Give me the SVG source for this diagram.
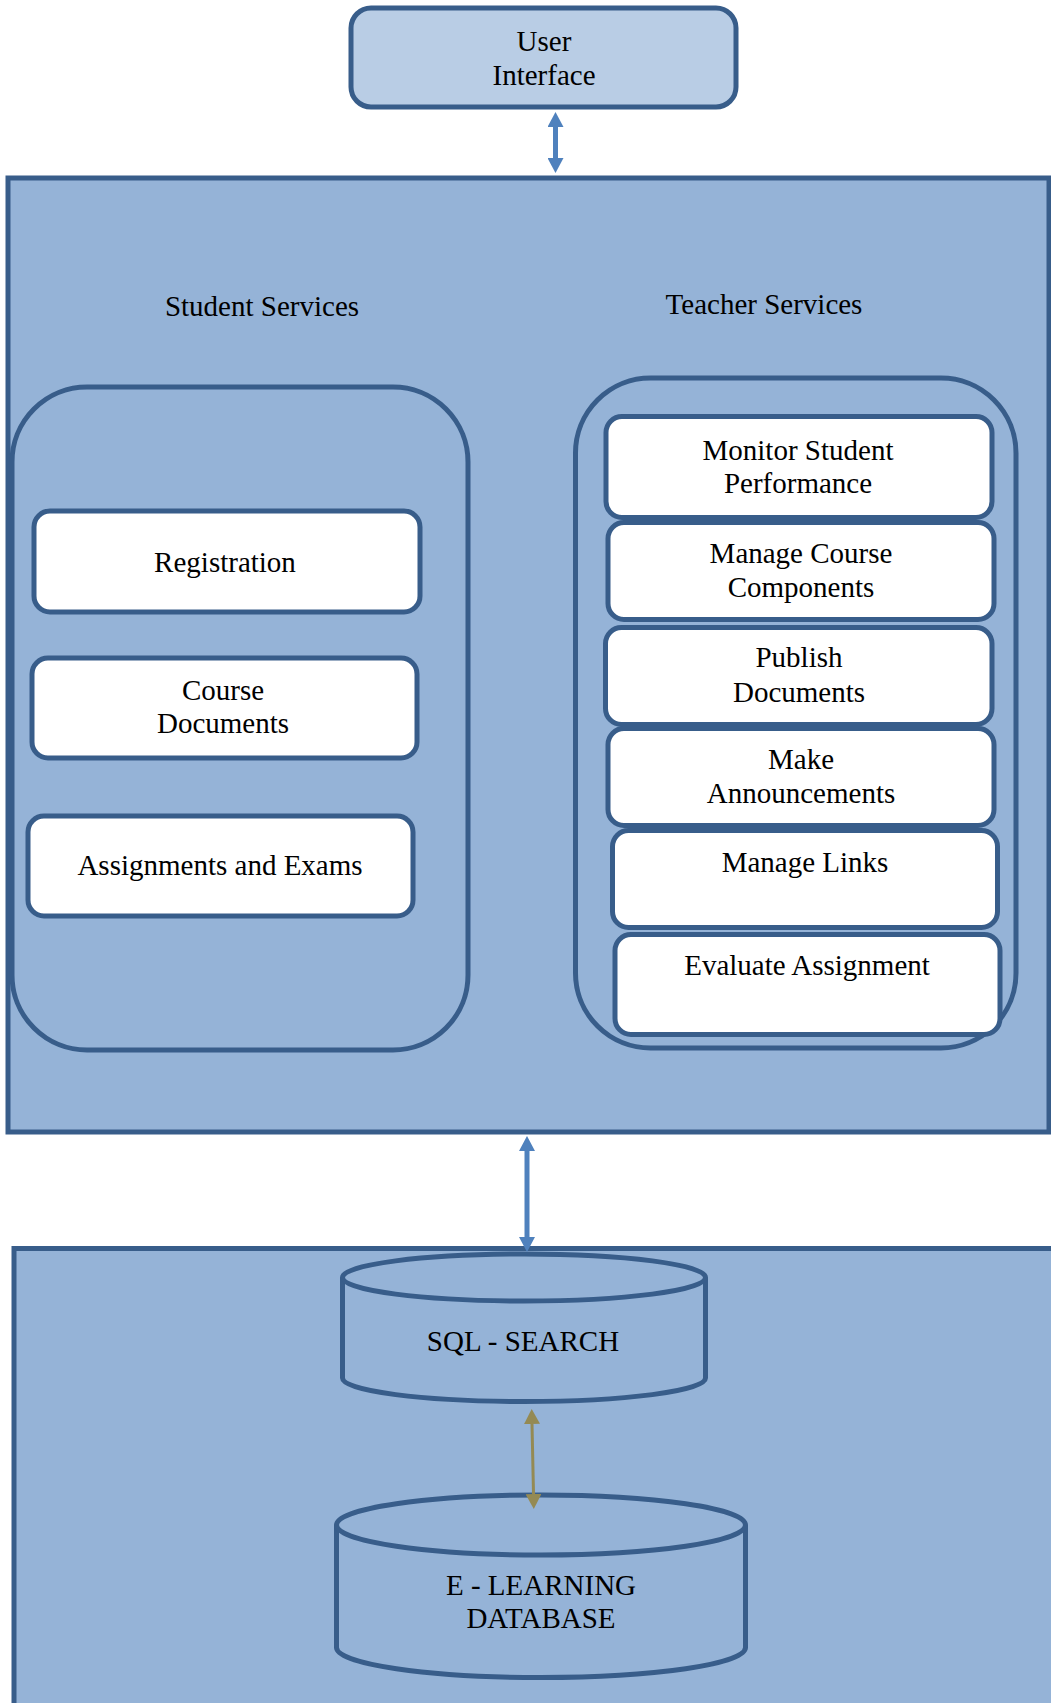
<svg xmlns="http://www.w3.org/2000/svg" width="1051" height="1703" viewBox="0 0 1051 1703">
  <style>
    text { font-family: "Liberation Serif", "Times New Roman", serif; font-size: 29px; fill: #000; text-anchor: middle; }
    .panel { fill: #95b3d7; stroke: #385d8a; stroke-width: 5; }
    .group { fill: #95b3d7; stroke: #385d8a; stroke-width: 5; }
    .item { fill: #ffffff; stroke: #385d8a; stroke-width: 5; }
    .ui { fill: #b9cde5; stroke: #385d8a; stroke-width: 5; }
    .db { fill: #95b3d7; stroke: #385d8a; stroke-width: 5; }
    .link-blue { stroke: #4f81bd; stroke-width: 5; fill: none; }
    .link-gold { stroke: #948a54; stroke-width: 3; fill: none; }
  </style>
  <defs>
    <marker id="head-blue" markerUnits="userSpaceOnUse" markerWidth="15" markerHeight="16" refX="0" refY="8" orient="auto-start-reverse">
      <path d="M0,0 L15,8 L0,16 Z" fill="#4f81bd"/>
    </marker>
    <marker id="head-gold" markerUnits="userSpaceOnUse" markerWidth="15" markerHeight="16" refX="0" refY="8" orient="auto-start-reverse">
      <path d="M0,0 L15,8 L0,16 Z" fill="#948a54"/>
    </marker>
  </defs>

  <rect width="1051" height="1703" fill="#ffffff"/>

  <!-- User interface -->
  <g id="user-interface">
    <rect class="ui" x="351" y="8" width="385" height="99" rx="20"/>
    <text x="544" y="51">User</text>
    <text x="544" y="85">Interface</text>
  </g>

  <!-- Application layer -->
  <g id="services-layer">
    <rect class="panel" x="8" y="178" width="1041" height="954"/>
  </g>

  <g id="student-services">
    <text x="262" y="316">Student Services</text>
    <rect class="group" x="12" y="387" width="456" height="663" rx="75"/>
  </g>
  <g id="registration">
    <rect class="item" x="34" y="511" width="386" height="101" rx="16"/>
    <text x="225" y="572">Registration</text>
  </g>
  <g id="course-documents">
    <rect class="item" x="32" y="658" width="385" height="100" rx="16"/>
    <text x="223" y="700">Course</text>
    <text x="223" y="733">Documents</text>
  </g>
  <g id="assignments-exams">
    <rect class="item" x="28" y="816" width="385" height="100" rx="16"/>
    <text x="220" y="875">Assignments and Exams</text>
  </g>

  <g id="teacher-services">
    <text x="764" y="314">Teacher Services</text>
    <rect class="group" x="575.5" y="378" width="440.5" height="670" rx="75"/>
  </g>
  <g id="monitor-performance">
    <rect class="item" x="606" y="416.5" width="386" height="101" rx="16"/>
    <text x="798" y="460">Monitor Student</text>
    <text x="798" y="493">Performance</text>
  </g>
  <g id="manage-course-components">
    <rect class="item" x="608" y="522.5" width="386" height="97" rx="16"/>
    <text x="801" y="563">Manage Course</text>
    <text x="801" y="597">Components</text>
  </g>
  <g id="publish-documents">
    <rect class="item" x="605.5" y="627.5" width="386.5" height="97" rx="16"/>
    <text x="799" y="667">Publish</text>
    <text x="799" y="702">Documents</text>
  </g>
  <g id="make-announcements">
    <rect class="item" x="608" y="728.5" width="386" height="97" rx="16"/>
    <text x="801" y="769">Make</text>
    <text x="801" y="803">Announcements</text>
  </g>
  <g id="manage-links">
    <rect class="item" x="612.5" y="830.5" width="385" height="97" rx="16"/>
    <text x="805" y="872">Manage Links</text>
  </g>
  <g id="evaluate-assignment">
    <rect class="item" x="615" y="934.5" width="385" height="100" rx="16"/>
    <text x="807" y="975">Evaluate Assignment</text>
  </g>

  <!-- Data layer -->
  <g id="data-layer">
    <rect class="panel" x="14" y="1248.5" width="1050" height="470"/>
  </g>
  <g id="sql-search">
    <path class="db" d="M342.5,1277.5 L342.5,1378 A181.5,23.5 0 0 0 705.5,1378 L705.5,1277.5"/>
    <ellipse class="db" cx="524" cy="1277.5" rx="181.5" ry="23.5"/>
    <text x="523" y="1351">SQL - SEARCH</text>
  </g>
  <g id="elearning-database">
    <path class="db" d="M336.5,1525 L336.5,1647.5 A204.5,30 0 0 0 745.5,1647.5 L745.5,1525"/>
    <ellipse class="db" cx="541" cy="1525" rx="204.5" ry="30"/>
    <text x="541" y="1595">E - LEARNING</text>
    <text x="541" y="1628">DATABASE</text>
  </g>

  <!-- Connectors -->
  <g id="connectors">
    <line class="link-blue" x1="555.5" y1="127" x2="555.5" y2="158" marker-start="url(#head-blue)" marker-end="url(#head-blue)"/>
    <line class="link-blue" x1="527" y1="1151" x2="527" y2="1237" marker-start="url(#head-blue)" marker-end="url(#head-blue)"/>
    <line class="link-gold" x1="532" y1="1424" x2="533.5" y2="1494" marker-start="url(#head-gold)" marker-end="url(#head-gold)"/>
  </g>
</svg>
